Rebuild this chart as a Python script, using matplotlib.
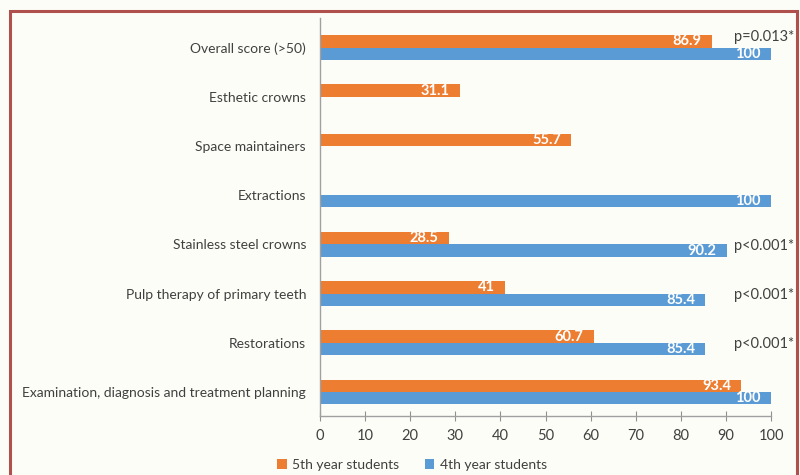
import matplotlib
matplotlib.use("Agg")
import matplotlib.pyplot as plt
from matplotlib.patches import Rectangle, Patch
import numpy as np

categories = [
    "Examination, diagnosis and treatment planning",
    "Restorations",
    "Pulp therapy of primary teeth",
    "Stainless steel crowns",
    "Extractions",
    "Space maintainers",
    "Esthetic crowns",
    "Overall score (>50)",
]
fifth_year = [93.4, 60.7, 41, 28.5, None, 55.7, 31.1, 86.9]
fourth_year = [100, 85.4, 85.4, 90.2, 100, None, None, 100]
p_values = ["", "p<0.001*", "p<0.001*", "p<0.001*", "", "", "", "p=0.013*"]
xticks = list(range(0, 101, 10))

C_5TH = "#ED7D31"
C_4TH = "#5B9BD5"
INK = "#404040"
BG = "#FDFDF8"

plt.rcParams.update({"font.family": ["Lato", "DejaVu Sans"], "font.size": 10})

fig = plt.figure(figsize=(8, 4.75), dpi=100, facecolor=BG)
ax = fig.add_axes([0.4, 0.124, 0.564, 0.838], facecolor=BG)

y = np.arange(len(categories))
h = 0.25
for i, (v5, v4) in enumerate(zip(fifth_year, fourth_year)):
    if v5 is not None:
        ax.barh(y[i] + h / 2, v5, height=h, color=C_5TH, edgecolor="none")
        ax.text(v5 - 2.3, y[i] + h / 2, f"{v5:g}", ha="right", va="center",
                color="white", fontweight="bold", fontsize=10.5)
    if v4 is not None:
        ax.barh(y[i] - h / 2, v4, height=h, color=C_4TH, edgecolor="none")
        ax.text(v4 - 2.3, y[i] - h / 2, f"{v4:g}", ha="right", va="center",
                color="white", fontweight="bold", fontsize=10.5)

for i, p in enumerate(p_values):
    if p:
        yy = y[i] + h / 2 + 0.1 if p.startswith("p=") else y[i] - 0.03
        ax.text(91.8, yy, p, ha="left", va="center", color=INK, fontsize=10.5,
                clip_on=False)

ax.set_xlim(0, 100)
ax.set_ylim(-0.49, 7.6)
ax.set_yticks(y)
ax.set_yticklabels(categories, color=INK, fontsize=10)
ax.set_xticks(xticks)
ax.tick_params(axis="x", direction="inout", length=7, colors="#909090",
               labelcolor=INK, labelsize=10.5, pad=6)
ax.tick_params(axis="y", length=0, pad=10)
for s in ("top", "right"):
    ax.spines[s].set_visible(False)
for s in ("left", "bottom"):
    ax.spines[s].set_color("#a0a0a0")
    ax.spines[s].set_linewidth(1.0)

handles = [Patch(facecolor=C_5TH, label="5th year students"),
           Patch(facecolor=C_4TH, label="4th year students")]
fig.legend(handles=handles, loc="center", bbox_to_anchor=(0.515, 0.022), ncol=2,
           frameon=False, fontsize=10, handlelength=0.7, handleheight=0.7,
           handletextpad=0.4, columnspacing=1.8, labelcolor=INK)

fig.patches.append(Rectangle((10 / 800, -0.2), 787 / 800, 1.2 - 11 / 475,
                             transform=fig.transFigure, fill=False,
                             edgecolor="#B0504C", linewidth=2.2))

fig.savefig("out.png", dpi=100, facecolor=BG)
